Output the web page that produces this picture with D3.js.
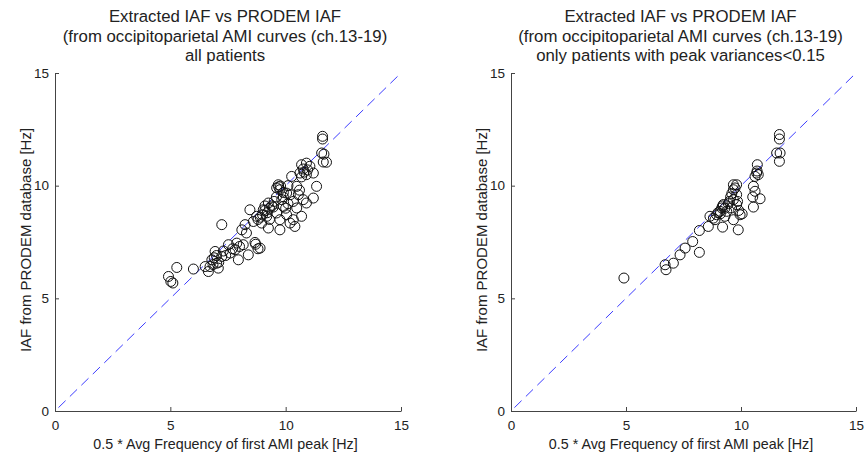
<!DOCTYPE html>
<html>
<head>
<meta charset="utf-8">
<script src="https://cdn.jsdelivr.net/npm/d3@7"></script>
<style>
  body { margin: 0; background: #fff; }
  svg { display: block; font-family: "Liberation Sans", Arial, sans-serif; }
</style>
</head>
<body>
<svg width="865" height="455"></svg>
<script>
// all patients: [avg freq of first AMI peak * 0.5, PRODEM IAF]
var allPatients = [
  [11.6,12.19],[11.6,12.07],[11.56,11.45],[11.66,11.4],[11.63,11.05],[11.77,11.04],
  [10.69,10.93],[10.9,11.0],[11.05,10.86],[10.76,10.74],[11.2,10.56],[10.62,10.56],
  [10.9,10.49],[10.69,10.39],[10.26,10.41],[10.8,10.6],[10.95,10.7],[11.34,9.97],
  [9.68,10.04],[9.61,9.9],[9.75,9.82],[9.7,9.95],[9.78,9.98],[10.48,9.97],[10.04,9.67],
  [10.55,9.6],[11.2,9.45],[10.76,9.38],[10.33,9.3],[9.83,9.38],[9.25,9.23],[9.46,9.05],
  [9.9,9.08],[10.48,9.01],[10.9,9.23],[9.03,8.93],[8.45,8.93],[9.61,8.79],[10.04,8.71],
  [9.18,8.64],[8.74,8.64],[10.69,8.64],[9.75,8.49],[10.33,8.49],[8.6,8.41],[8.96,8.34],
  [10.19,8.34],[8.24,8.27],[9.25,8.12],[9.75,8.04],[10.4,8.19],[8.1,8.04],[7.23,8.27],
  [9.1,8.9],[9.2,8.8],[9.3,9.0],[9.0,8.7],[8.9,8.6],[9.4,9.1],[9.5,9.3],[9.6,9.5],
  [9.9,9.5],[10.1,9.2],[10.2,9.6],[10.0,9.0],[9.3,8.5],[8.8,8.5],[9.1,9.1],[10.6,9.8],
  [10.1,10.0],[9.9,9.7],
  [7.52,7.38],[7.88,7.45],[8.16,7.38],[8.67,7.48],[8.89,7.23],[7.81,7.16],[8.38,6.93],
  [7.95,6.71],[7.59,7.01],[7.23,6.86],[6.94,7.08],[6.8,6.71],[7.01,6.56],[6.72,6.41],
  [6.51,6.41],[7.08,6.34],[6.65,6.19],[6.0,6.3],[5.28,6.37],[4.92,5.97],[5.02,5.75],
  [5.11,5.68],[6.9,6.8],[7.0,6.9],[6.85,6.5],[7.1,6.6],[7.3,7.1],[7.7,7.2],[8.0,7.3],
  [8.7,7.4],[8.8,7.2],[8.3,7.9],[7.4,6.9]
];

// only patients with peak variances < 0.15
var lowVariance = [
  [11.67,12.27],[11.67,12.07],[11.55,11.45],[11.7,11.45],[11.67,11.08],
  [10.71,10.93],[10.68,10.56],[10.75,10.49],[10.61,10.41],[10.7,10.65],
  [10.54,9.97],[10.61,9.75],[10.51,9.5],[10.83,9.42],[10.54,9.05],
  [9.67,10.04],[9.81,10.04],[9.67,9.82],[9.74,9.9],[9.81,9.6],[9.67,9.38],[9.81,9.16],
  [9.96,8.71],[9.88,8.04],[9.59,9.01],[9.23,9.16],[9.16,9.01],[9.09,8.86],[9.38,8.86],
  [9.3,8.64],[8.94,8.71],[8.8,8.56],[8.65,8.64],[8.87,8.49],[9.67,8.49],[8.58,8.19],
  [9.2,8.16],[8.19,8.01],[7.9,7.52],[7.57,7.23],[7.35,6.93],[7.06,6.56],[6.7,6.49],
  [6.74,6.27],[8.19,7.04],[4.91,5.9],
  [9.2,9.1],[9.3,9.0],[9.45,9.2],[9.5,9.3],[9.55,9.5],[9.1,8.75],[9.6,9.65],[9.85,9.3],
  [9.9,8.9],[9.0,8.8],[10.05,8.75]
];

var ticks = [0, 5, 10, 15];
var titleLines = [
  ["Extracted IAF vs PRODEM IAF", "(from occipitoparietal AMI curves (ch.13-19)", "all patients"],
  ["Extracted IAF vs PRODEM IAF", "(from occipitoparietal AMI curves (ch.13-19)", "only patients with peak variances<0.15"]
];
var xLabel = "0.5 * Avg Frequency of first AMI peak [Hz]";
var yLabel = "IAF from PRODEM database [Hz]";

var svg = d3.select("svg");

function panel(data, titles, x0, x1) {
  var x = d3.scaleLinear().domain([0, 15]).range([x0, x1]);
  var y = d3.scaleLinear().domain([0, 15]).range([411, 73]);
  var g = svg.append("g");
  var axisColor = "#444";

  // axes (box off, inward ticks)
  var xAxis = d3.axisBottom(x).tickValues(ticks).tickSizeInner(-4).tickSizeOuter(0).tickPadding(9);
  var yAxis = d3.axisLeft(y).tickValues(ticks).tickSizeInner(-4).tickSizeOuter(0).tickPadding(6);

  var gx = g.append("g").attr("transform", "translate(0,411)").call(xAxis);
  var gy = g.append("g").attr("transform", "translate(" + x0 + ",0)").call(yAxis);
  [gx, gy].forEach(function (a) {
    a.select(".domain").attr("stroke", axisColor).attr("stroke-width", 1);
    a.selectAll(".tick line").attr("stroke", axisColor);
    a.selectAll(".tick text").attr("fill", "#222").style("font-size", "13.5px")
      .style("font-family", "'Liberation Sans', Arial, sans-serif");
  });

  // identity line
  g.append("line")
    .attr("x1", x(0.15)).attr("y1", y(0.15))
    .attr("x2", x(15)).attr("y2", y(15))
    .attr("stroke", "#3d3dff")
    .attr("stroke-width", 1)
    .attr("stroke-dasharray", "10,6");

  g.selectAll("circle.pt")
    .data(data)
    .enter()
    .append("circle")
    .attr("class", "pt")
    .attr("cx", function (d) { return x(d[0]); })
    .attr("cy", function (d) { return y(d[1]); })
    .attr("r", 5)
    .attr("fill", "none")
    .attr("stroke", "#111")
    .attr("stroke-width", 1);

  var cx = (x0 + x1) / 2;
  g.selectAll("text.title")
    .data(titles)
    .enter()
    .append("text")
    .attr("class", "title")
    .attr("x", cx - 3)
    .attr("y", function (d, i) { return 22 + i * 19.5; })
    .attr("text-anchor", "middle")
    .attr("fill", "#222")
    .style("font-size", "16.8px")
    .text(function (d) { return d; });

  g.append("text")
    .attr("x", cx - 2.5)
    .attr("y", 449)
    .attr("text-anchor", "middle")
    .attr("fill", "#222")
    .style("font-size", "14.3px")
    .text(xLabel);

  g.append("text")
    .attr("transform", "translate(" + (x0 - 24) + "," + 240 + ") rotate(-90)")
    .attr("text-anchor", "middle")
    .attr("fill", "#222")
    .style("font-size", "15px")
    .text(yLabel);
}

panel(allPatients, titleLines[0], 55, 401);
panel(lowVariance, titleLines[1], 511, 856);
</script>
</body>
</html>
